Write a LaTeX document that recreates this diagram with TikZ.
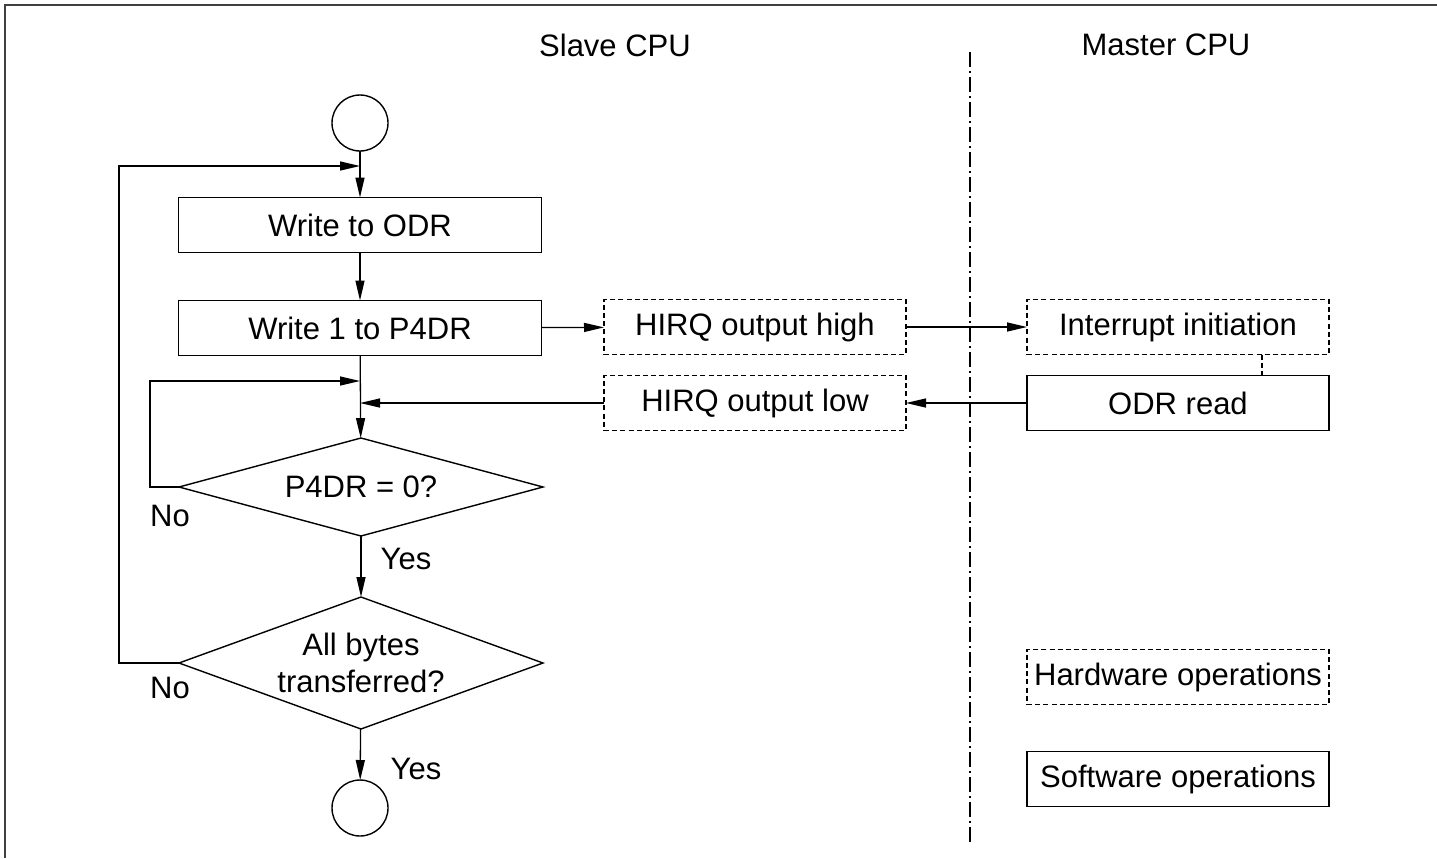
\documentclass[tikz,border=0pt]{standalone}
\usepackage{fontspec}
\setmainfont{Liberation Sans}
\usetikzlibrary{arrows.meta, shapes.geometric}
\tikzset{
  every node/.style={font=\fontsize{15.5}{18.5}\selectfont},
  soft/.style  = {rectangle, draw, line width=0.7pt, inner sep=0pt, outer sep=0pt,
                  align=center, minimum width=151pt, minimum height=27.5pt},
  hard/.style  = {soft, dash pattern=on 2.5pt off 1.6pt},
  dec/.style   = {diamond, draw, line width=0.7pt, aspect=2.75, inner sep=-3pt,
                  outer sep=0pt, align=center, minimum width=182pt},
  term/.style  = {circle, draw, line width=0.7pt, minimum size=28pt, inner sep=0pt, outer sep=0pt},
  arrow/.style = {-{Triangle[length=10pt,width=4.5pt]}, line width=0.65pt},
  link/.style  = {line width=0.7pt, dash pattern=on 2.5pt off 1.6pt},
  lane/.style  = {line width=0.8pt, dash pattern=on 7.5pt off 2pt on 1pt off 2pt},
  title/.style = {align=center},
}

\begin{document}
\begin{tikzpicture}[x=0.5pt, y=-0.5pt]
  \useasboundingbox (0,0) rectangle (1437,858);
  \draw[black!75, line width=1pt] (5,858) -- (5,5) -- (1437,5);

  % ---- lane titles and separator ----
  \node[title] (slave)  at (615,45)  {Slave CPU};
  \node[title] (master) at (1166,45) {Master CPU};
  \coordinate (lanetop) at (970,52);
  \coordinate (lanebot) at (970,842);
  \draw[lane] (lanetop) -- (lanebot);

  % ---- slave flow ----
  \node[term] (start) at (360,123) {};
  \node[soft, minimum width=181.5pt] (wodr) at (360,225) {Write to ODR};
  \node[soft, minimum width=181.5pt] (wp4)  at (360,328) {Write 1 to P4DR};
  \node[dec, minimum height=49pt] (chk)  at (361,487) {P4DR = 0?};
  \node[dec, minimum height=66pt] (done) at (361,663) {All bytes\\transferred?};
  \node[term] (stop) at (360,808) {};

  % ---- hardware / master side ----
  \node[hard] (hhigh) at (755,327)  {HIRQ output high};
  \node[hard] (hlow)  at (755,403)  {HIRQ output low};
  \node[hard] (intr)  at (1178,327) {Interrupt initiation};
  \node[soft] (odr)   at (1178,403) {ODR read};

  % ---- legend ----
  \node[hard] (leghw) at (1178,677) {Hardware operations};
  \node[soft] (legsw) at (1178,779) {Software operations};

  % ---- junctions on the main line ----
  \coordinate (join1) at (360,166);
  \coordinate (join2) at (360,381);
  \coordinate (join3) at (360,403);

  % ---- main arrows ----
  \draw[arrow] (start) -- (wodr);
  \draw[arrow] (wodr) -- (wp4);
  \draw[arrow] (wp4) -- (chk);
  \draw[arrow] (chk) -- (done);
  \draw[arrow] (done) -- (stop);
  \node (yes1) at (406,559) {Yes};
  \node (yes2) at (416,769) {Yes};

  % ---- loops back ----
  \draw[arrow] (chk.west) -- ++(-29,0) |- (join2);
  \draw[arrow] (done.west) -- ++(-60,0) |- (join1);
  \node (no1) at (170,516) {No};
  \node (no2) at (170,688) {No};

  % ---- handshake ----
  \draw[arrow] (wp4) -- (hhigh);
  \draw[arrow] (hhigh) -- (intr);
  \draw[arrow] (odr) -- (hlow);
  \draw[arrow] (hlow) -- (join3);
  \draw[link] ([xshift=-33.5pt]intr.south east) -- ([xshift=-33.5pt]odr.north east);
\end{tikzpicture}
\end{document}
